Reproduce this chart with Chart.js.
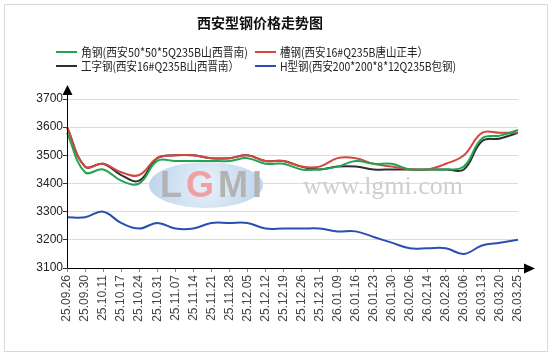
<!DOCTYPE html>
<html><head><meta charset="utf-8">
<script src="https://cdn.jsdelivr.net/npm/chart.js@4.4.1/dist/chart.umd.min.js"></script>
<style>html,body{margin:0;padding:0;background:#fff}#wrap{width:554px;height:358px;position:relative}</style>
</head><body><div id="wrap"><canvas id="c" width="554" height="358"></canvas></div>
<script>
const chartTitle = '西安型钢价格走势图';
const categories = ['25.09.26','25.09.30','25.10.11','25.10.17','25.10.24','25.10.31','25.11.07','25.11.14','25.11.21','25.11.28','25.12.05','25.12.12','25.12.19','25.12.26','25.12.31','26.01.09','26.01.16','26.01.23','26.01.30','26.02.06','26.02.14','26.02.28','26.03.06','26.03.13','26.03.20','26.03.25'];
const seriesNames = ['角钢(西安50*50*5Q235B山西晋南)','槽钢(西安16#Q235B唐山正丰）','工字钢(西安16#Q235B山西晋南）','H型钢(西安200*200*8*12Q235B包钢)'];
const angleSteel   = [3580,3440,3450,3410,3400,3480,3480,3480,3480,3480,3490,3470,3470,3450,3450,3460,3480,3470,3470,3450,3450,3450,3460,3560,3570,3590];
const channelSteel = [3600,3460,3470,3440,3430,3490,3500,3500,3490,3490,3500,3480,3480,3460,3460,3490,3490,3470,3460,3450,3450,3470,3500,3580,3580,3580];
const iBeam        = [3600,3460,3470,3430,3410,3490,3500,3500,3490,3490,3500,3480,3480,3460,3450,3460,3460,3450,3450,3450,3450,3450,3450,3550,3560,3580];
const hBeam        = [3280,3280,3300,3260,3240,3260,3240,3240,3260,3260,3260,3240,3240,3240,3240,3230,3230,3210,3190,3170,3170,3170,3150,3180,3190,3200];
const yTicks = [3100,3200,3300,3400,3500,3600,3700];
const colors = ['#22a352','#d4473f','#2f2f2f','#2b4fb0'];

const deco = {
  id:'deco',
  beforeDatasetsDraw(chart){
    const ctx = chart.ctx;
    ctx.save();
    const g = ctx.createRadialGradient(206,185,5,206,185,60);
    g.addColorStop(0,'#e4eef8'); g.addColorStop(1,'#bcd3ec');
    ctx.fillStyle = g;
    ctx.beginPath(); ctx.ellipse(206,185,57,23,0,0,Math.PI*2); ctx.fill();
    ctx.font = 'bold 36px "Liberation Sans", Arial, sans-serif';
    ctx.textBaseline = 'alphabetic';
    ctx.textAlign = 'left';
    const parts = [['L',160,'#b3b3b3'],['G',186,'#f0a0a0'],['M',218,'#b3b3b3'],['I',252,'#b3b3b3']];
    for (const [t,x,c] of parts){ ctx.fillStyle=c; ctx.fillText(t,x,197); }
    ctx.font = '26px "Liberation Serif", "DejaVu Serif", serif';
    ctx.fillStyle = '#cfcfcf';
    ctx.fillText('www.lgmi.com',303,194);
    ctx.restore();
  },
  afterDraw(chart){
    const ctx = chart.ctx;
    const ca = chart.chartArea;
    ctx.save();
    ctx.strokeStyle = '#d9d9d9'; ctx.lineWidth = 1;
    ctx.strokeRect(4.5,4.5,543,347);
    ctx.fillStyle = '#111';
    ctx.font = 'bold 14px "Noto Sans CJK SC", sans-serif';
    ctx.textAlign = 'center'; ctx.textBaseline = 'middle';
    ctx.fillText(chartTitle, 260, 23);
    ctx.font = '12px "Noto Sans CJK SC", sans-serif';
    ctx.textAlign = 'left';
    const pos = [[56,52,167],[255,52,148],[56,66,158],[255,66,176]];
    seriesNames.forEach((n,i)=>{
      const [lx,ly,w] = pos[i];
      ctx.strokeStyle = colors[i]; ctx.lineWidth = 2;
      ctx.beginPath(); ctx.moveTo(lx,ly); ctx.lineTo(lx+21,ly); ctx.stroke();
      ctx.fillStyle = '#222';
      ctx.fillText(n, lx+25, ly+0.5, w);
    });
    const x0 = Math.round(ca.left)+0.5, y0 = Math.round(ca.bottom)+0.5;
    ctx.strokeStyle = '#000'; ctx.lineWidth = 1;
    ctx.beginPath(); ctx.moveTo(x0, y0); ctx.lineTo(x0, 94); ctx.stroke();
    ctx.beginPath(); ctx.moveTo(x0, y0); ctx.lineTo(525, y0); ctx.stroke();
    ctx.fillStyle = '#000';
    ctx.beginPath(); ctx.moveTo(x0,85); ctx.lineTo(x0-5,95); ctx.lineTo(x0+5,95); ctx.closePath(); ctx.fill();
    ctx.beginPath(); ctx.moveTo(535,y0); ctx.lineTo(524,y0-5); ctx.lineTo(524,y0+5); ctx.closePath(); ctx.fill();
    ctx.restore();
  }
};

new Chart(document.getElementById('c'), {
  type:'line',
  data:{
    labels: categories,
    datasets:[
      {label:seriesNames[0], data:angleSteel, borderColor:colors[0]},
      {label:seriesNames[1], data:channelSteel, borderColor:colors[1]},
      {label:seriesNames[2], data:iBeam, borderColor:colors[2]},
      {label:seriesNames[3], data:hBeam, borderColor:colors[3]}
    ].map(d=>Object.assign(d,{borderWidth:2,pointRadius:0,tension:0.4,fill:false}))
  },
  options:{
    responsive:false, animation:false, devicePixelRatio:1,
    layout:{padding:{left:0,right:36,top:99,bottom:0}},
    plugins:{legend:{display:false},title:{display:false},tooltip:{enabled:false}},
    scales:{
      x:{
        offset:false,
        afterFit(s){ s.height = 90; },
        grid:{drawOnChartArea:false, drawTicks:true, tickLength:4, color:'#888'},
        border:{display:false},
        ticks:{autoSkip:false, minRotation:90, maxRotation:90, padding:3, color:'#444',
               font:{family:'"Liberation Sans", Arial, sans-serif', size:12}}
      },
      y:{
        min:3100, max:3700,
        afterFit(s){ s.width = 67; },
        afterBuildTicks(s){ s.ticks = yTicks.map(v=>({value:v})); },
        grid:{color:'#dcdcdc', tickLength:4, tickColor:'#333'},
        border:{display:false},
        ticks:{padding:0, color:'#222', callback:v=>String(v),
               font:{family:'"Liberation Sans", Arial, sans-serif', size:12}}
      }
    }
  },
  plugins:[deco]
});
</script></body></html>
